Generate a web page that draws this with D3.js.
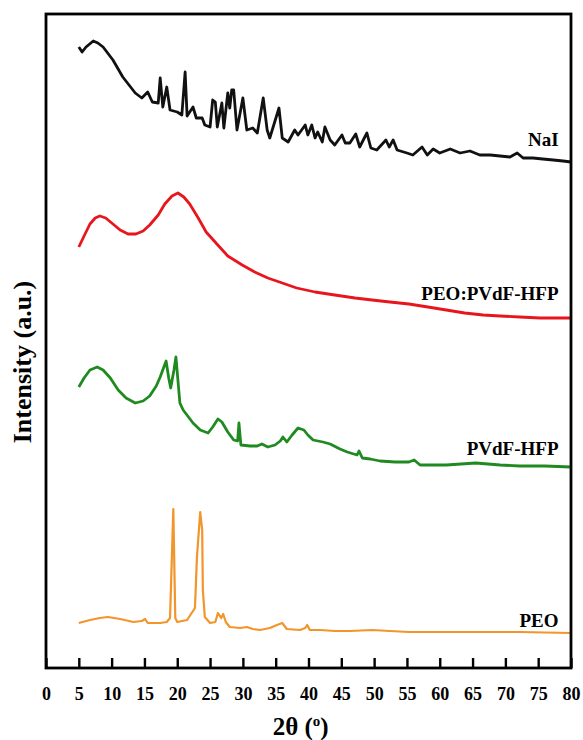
<!DOCTYPE html>
<html>
<head>
<meta charset="utf-8">
<script src="https://cdn.jsdelivr.net/npm/d3@7"></script>
<style>
  body { margin: 0; background: #fff; }
  svg text { font-family: "Liberation Serif", "Times New Roman", serif; font-weight: bold; }
</style>
</head>
<body>
<script>
// XRD patterns, 2θ (deg) vs intensity (a.u., stacked with offsets)
let nai = [[5.0,621],[5.5,616],[6.1,621],[7.2,627],[7.9,625],[8.7,621],[10.2,608],[11.7,591],[13.6,575],[14.6,570],
  [15.5,576],[16.2,566],[17.1,565],[17.4,590],[17.8,561],[18.4,581],[18.9,558],[20.0,556],[20.7,553],[21.2,596],
  [21.5,552],[22.4,561],[22.9,550],[23.8,550],[24.2,543],[25.0,541],[25.4,568],[25.8,566],[26.1,541],[26.8,565],
  [27.1,540],[27.7,575],[28.0,560],[28.3,578],[28.6,578],[29.1,538],[30.0,570],[30.6,538],[31.5,540],[32.2,535],
  [33.1,570],[33.7,538],[34.1,530],[35.5,560],[36.0,530],[36.9,526],[37.9,538],[38.4,533],[39.5,543],[39.9,533],
  [40.5,543],[41.0,530],[41.4,536],[42.1,526],[42.5,541],[43.3,528],[44.0,523],[45.1,533],[45.6,525],[46.3,525],
  [47.2,534],[47.8,521],[48.9,535],[49.5,520],[50.4,518],[51.8,528],[52.3,521],[52.9,528],[53.5,518],[55.0,515],
  [55.9,513],[57.3,521],[58.1,513],[59.0,519],[60.0,515],[61.6,519],[63.1,515],[64.6,517],[66.1,513],[67.7,513],
  [69.2,512],[70.7,511],[71.8,515],[72.7,510],[74.2,510],[75.7,509],[77.3,508],[78.8,507],[80.0,506]];

let blend = [[5.0,421],[5.8,432],[6.7,444],[7.5,450],[8.2,452],[9.1,450],[10.2,444],[11.3,438],[12.5,434],[13.7,434],
  [14.8,437],[15.8,443],[17.1,453],[18.1,464],[19.2,472],[20.1,475],[21.0,471],[21.9,464],[23.2,450],[24.4,436],
  [25.9,425],[27.7,412],[29.9,403],[31.8,396],[33.8,390],[36.0,385],[38.2,380],[41.0,376],[44.0,373],[47.1,370],
  [49.7,368],[52.4,366],[55.3,364],[58.2,361],[61.0,358],[63.8,355],[66.6,353],[69.2,352],[72.2,351],[75.3,350],[80.0,350]];

let pvdf = [[5.0,281],[5.8,290],[6.7,298],[7.8,301],[8.7,298],[9.8,290],[11.0,278],[12.2,270],[13.6,265],[14.8,267],
  [15.8,272],[16.8,282],[17.4,291],[18.3,307],[18.7,290],[19.0,280],[19.5,298],[19.8,311],[20.1,288],[20.4,265],
  [20.9,258],[22.4,245],[23.5,238],[24.7,235],[25.4,241],[26.2,249],[26.8,246],[27.7,236],[28.6,228],[29.2,227],
  [29.4,245],[29.7,223],[31.1,222],[32.2,222],[32.9,224],[33.8,221],[34.9,223],[35.7,227],[36.1,231],[36.7,226],
  [37.5,233],[38.4,240],[39.3,238],[39.9,233],[40.7,228],[42.2,226],[43.3,224],[44.8,219],[45.9,216],[47.4,213],
  [47.7,217],[48.2,210],[49.4,209],[50.9,207],[53.2,206],[55.3,206],[56.1,208],[57.0,203],[61.0,203],[65.5,205],
  [69.2,203],[72.2,202],[76.0,202],[80.0,201]];

let peo = [[5.0,45],[6.7,48],[8.2,50],[9.4,51],[11.3,49],[13.3,46],[14.6,47],[15.1,49],[15.5,45],[17.4,45],
  [18.4,46],[18.9,50],[19.4,159],[19.7,50],[20.0,46],[21.5,48],[22.2,55],[22.7,60],[23.0,111],[23.5,156],
  [23.8,138],[23.9,78],[24.2,51],[25.0,45],[25.8,46],[26.2,55],[26.7,50],[27.0,54],[27.4,46],[28.0,41],
  [29.6,40],[30.6,41],[31.5,39],[32.6,38],[34.1,40],[35.2,43],[36.0,45],[36.7,39],[38.7,38],[39.5,40],
  [39.8,43],[40.2,38],[41.8,38],[44.0,37],[46.3,37],[49.7,38],[52.4,37],[55.3,36],[61.6,36],[66.6,36],
  [72.2,36],[80.0,35]];

let seriesNames = ["NaI", "PEO:PVdF-HFP", "PVdF-HFP", "PEO"];
let seriesColors = ["#111111", "#e8161c", "#1f8a1f", "#f2952a"];
let xTicks = [0,5,10,15,20,25,30,35,40,45,50,55,60,65,70,75,80];

window.onload = function() {
    let width = 583, height = 740;
    let margin = {left: 46, right: 12, top: 14, bottom: 72};

    let svg = d3.select("body").append("svg")
        .attr("width", width)
        .attr("height", height);

    let x = d3.scaleLinear().domain([0, 80]).range([margin.left, width - margin.right]);
    let y = d3.scaleLinear().domain([0, 654]).range([height - margin.bottom, margin.top]);

    let line = d3.line().x(d => x(d[0])).y(d => y(d[1]));

    let all = [nai, blend, pvdf, peo];
    svg.selectAll("path.curve")
        .data(all)
        .enter()
        .append("path")
        .attr("class", "curve")
        .attr("d", line)
        .attr("fill", "none")
        .attr("stroke", (d, i) => seriesColors[i])
        .attr("stroke-width", (d, i) => i == 3 ? 2.2 : 2.8)
        .attr("stroke-linejoin", "round");

    // labels sit just above the right end of each curve
    let labelY = [522, 368, 213, 41];
    svg.selectAll("text.lab")
        .data(seriesNames)
        .enter()
        .append("text")
        .attr("class", "lab")
        .attr("x", x(78.1))
        .attr("y", (d, i) => y(labelY[i]))
        .attr("text-anchor", "end")
        .attr("font-size", 19)
        .text(d => d);

    // x axis with inward ticks
    let xAxis = d3.axisBottom(x).tickValues(xTicks).tickSizeInner(-10).tickSizeOuter(0).tickPadding(19);
    let gx = svg.append("g")
        .attr("transform", "translate(0," + y(0) + ")")
        .call(xAxis);
    gx.select(".domain").remove();
    gx.selectAll(".tick line").attr("stroke", "#000").attr("stroke-width", 2.4);
    gx.selectAll(".tick text")
        .attr("font-size", 18)
        .attr("fill", "#000")
        .style("font-family", "'Liberation Serif', serif")
        .style("font-weight", "bold");

    // frame
    svg.append("rect")
        .attr("x", x(0))
        .attr("y", y(654))
        .attr("width", x(80) - x(0))
        .attr("height", y(0) - y(654))
        .attr("fill", "none")
        .attr("stroke", "#000")
        .attr("stroke-width", 2.8);

    // axis titles
    let xt = svg.append("text")
        .attr("x", x(38.8))
        .attr("y", 735)
        .attr("text-anchor", "middle")
        .attr("font-size", 25)
        .text("2θ (");
    xt.append("tspan").attr("font-size", 15).attr("dy", -9).text("o");
    xt.append("tspan").attr("dy", 9).text(")");

    svg.append("text")
        .attr("transform", "translate(31,362) rotate(-90)")
        .attr("text-anchor", "middle")
        .attr("font-size", 26)
        .text("Intensity (a.u.)");
};
</script>
</body>
</html>
